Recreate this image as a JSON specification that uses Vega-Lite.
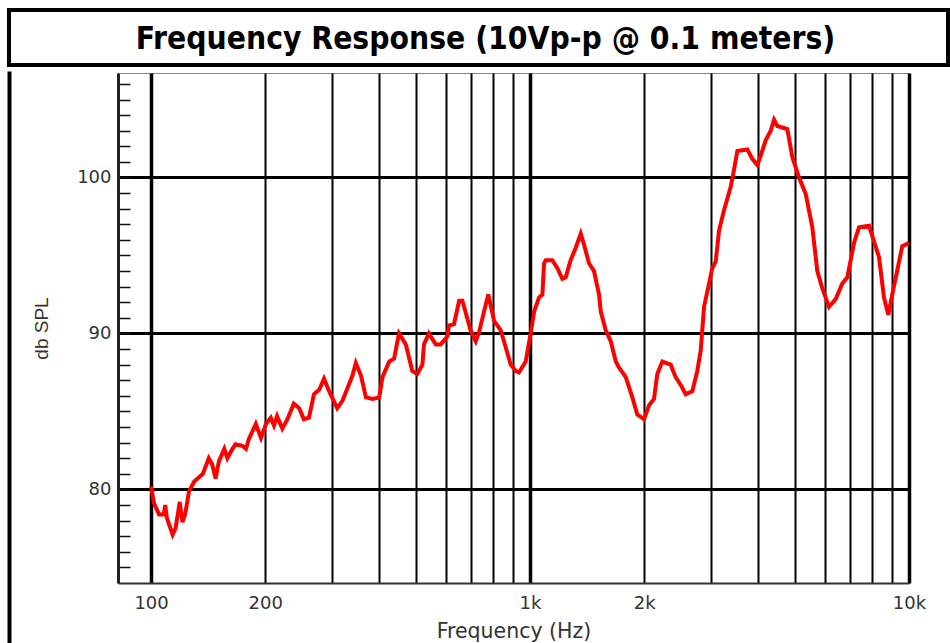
{
  "$schema": "https://vega.github.io/schema/vega-lite/v6.json",
  "background": "white",
  "padding": {"left": 7, "top": 8, "right": 0, "bottom": 0},
  "spacing": 0,
  "config": {"view": {"stroke": null}},
  "vconcat": [
    {
      "width": 939,
      "height": 55,
      "view": {"stroke": "black", "strokeWidth": 4},
      "data": {"values": [{"t": "Frequency Response (10Vp-p @ 0.1 meters)"}]},
      "mark": {"type": "text", "font": "DejaVu Sans Condensed", "fontWeight": "bold", "fontSize": 31.5, "color": "black", "baseline": "middle", "dx": 7, "dy": 2},
      "encoding": {"text": {"field": "t"}}
    },
    {
      "spacing": 20,
      "hconcat": [
        {
          "width": 1,
          "height": 572,
          "view": {"stroke": "black", "strokeWidth": 3},
          "data": {"values": []},
          "mark": "point",
          "encoding": {}
        },
        {
          "width": 791,
          "height": 510,
          "view": {"stroke": "#888", "strokeWidth": 1},
          "data": {"values": [
            {"f": 100, "db": 80.2}, {"f": 101.8, "db": 79.1}, {"f": 105, "db": 78.4}, {"f": 108, "db": 78.4},
            {"f": 109, "db": 79.0}, {"f": 110, "db": 78.2}, {"f": 114, "db": 77.1}, {"f": 116, "db": 77.5},
            {"f": 118, "db": 78.6}, {"f": 119, "db": 79.2}, {"f": 121, "db": 77.9}, {"f": 123, "db": 78.4},
            {"f": 126, "db": 79.9}, {"f": 130, "db": 80.5}, {"f": 137, "db": 81.0}, {"f": 142, "db": 82.0},
            {"f": 145, "db": 81.6}, {"f": 148, "db": 80.7}, {"f": 151, "db": 81.8}, {"f": 156, "db": 82.6},
            {"f": 159, "db": 82.0}, {"f": 164, "db": 82.6}, {"f": 167, "db": 82.9}, {"f": 174, "db": 82.8},
            {"f": 178, "db": 82.6}, {"f": 181, "db": 83.2}, {"f": 189, "db": 84.2}, {"f": 195, "db": 83.3},
            {"f": 201, "db": 84.2}, {"f": 207, "db": 84.6}, {"f": 211, "db": 84.1}, {"f": 215, "db": 84.7},
            {"f": 222, "db": 83.9}, {"f": 229, "db": 84.5}, {"f": 238, "db": 85.5}, {"f": 246, "db": 85.2},
            {"f": 253, "db": 84.5}, {"f": 261, "db": 84.6}, {"f": 269, "db": 86.1}, {"f": 278, "db": 86.4},
            {"f": 286, "db": 87.1}, {"f": 295, "db": 86.3}, {"f": 310, "db": 85.2}, {"f": 320, "db": 85.7},
            {"f": 330, "db": 86.5}, {"f": 340, "db": 87.3}, {"f": 347, "db": 88.1}, {"f": 358, "db": 87.3},
            {"f": 369, "db": 85.9}, {"f": 385, "db": 85.8}, {"f": 400, "db": 85.9}, {"f": 408, "db": 87.2},
            {"f": 425, "db": 88.2}, {"f": 438, "db": 88.4}, {"f": 451, "db": 90.0}, {"f": 470, "db": 89.3},
            {"f": 489, "db": 87.6}, {"f": 504, "db": 87.4}, {"f": 520, "db": 88.0}, {"f": 525, "db": 89.3},
            {"f": 541, "db": 90.0}, {"f": 564, "db": 89.3}, {"f": 581, "db": 89.3}, {"f": 605, "db": 89.8},
            {"f": 611, "db": 90.5}, {"f": 630, "db": 90.6}, {"f": 650, "db": 92.1}, {"f": 663, "db": 92.1},
            {"f": 697, "db": 90.2}, {"f": 719, "db": 89.5}, {"f": 734, "db": 90.1}, {"f": 756, "db": 91.4},
            {"f": 776, "db": 92.5}, {"f": 804, "db": 90.8}, {"f": 837, "db": 90.2}, {"f": 863, "db": 89.1},
            {"f": 889, "db": 88.0}, {"f": 917, "db": 87.6}, {"f": 935, "db": 87.5}, {"f": 974, "db": 88.2},
            {"f": 1004, "db": 90.0}, {"f": 1025, "db": 91.4}, {"f": 1056, "db": 92.3}, {"f": 1078, "db": 92.5},
            {"f": 1089, "db": 94.5}, {"f": 1100, "db": 94.7}, {"f": 1145, "db": 94.7}, {"f": 1180, "db": 94.2},
            {"f": 1217, "db": 93.5}, {"f": 1242, "db": 93.6}, {"f": 1280, "db": 94.7}, {"f": 1320, "db": 95.5},
            {"f": 1361, "db": 96.4}, {"f": 1388, "db": 95.7}, {"f": 1431, "db": 94.5}, {"f": 1475, "db": 94.0},
            {"f": 1521, "db": 92.5}, {"f": 1537, "db": 91.4}, {"f": 1584, "db": 90.2}, {"f": 1633, "db": 89.5},
            {"f": 1684, "db": 88.2}, {"f": 1718, "db": 87.8}, {"f": 1789, "db": 87.2}, {"f": 1862, "db": 85.9},
            {"f": 1919, "db": 84.8}, {"f": 1999, "db": 84.5}, {"f": 2061, "db": 85.4}, {"f": 2124, "db": 85.8},
            {"f": 2167, "db": 87.4}, {"f": 2234, "db": 88.2}, {"f": 2350, "db": 88.0}, {"f": 2423, "db": 87.2},
            {"f": 2498, "db": 86.7}, {"f": 2575, "db": 86.1}, {"f": 2681, "db": 86.3}, {"f": 2763, "db": 87.6},
            {"f": 2821, "db": 88.9}, {"f": 2878, "db": 91.7}, {"f": 2967, "db": 93.2}, {"f": 3027, "db": 94.2},
            {"f": 3090, "db": 94.6}, {"f": 3153, "db": 96.6}, {"f": 3250, "db": 97.9}, {"f": 3385, "db": 99.4},
            {"f": 3454, "db": 100.5}, {"f": 3524, "db": 101.7}, {"f": 3744, "db": 101.8}, {"f": 3859, "db": 101.2},
            {"f": 3979, "db": 100.8}, {"f": 4062, "db": 101.4}, {"f": 4188, "db": 102.4}, {"f": 4317, "db": 103.0},
            {"f": 4405, "db": 103.7}, {"f": 4494, "db": 103.3}, {"f": 4775, "db": 103.1}, {"f": 4922, "db": 101.3},
            {"f": 5126, "db": 100.0}, {"f": 5339, "db": 98.95}, {"f": 5558, "db": 96.8}, {"f": 5729, "db": 94.0},
            {"f": 5905, "db": 92.9}, {"f": 6150, "db": 91.7}, {"f": 6406, "db": 92.2}, {"f": 6668, "db": 93.2},
            {"f": 6874, "db": 93.6}, {"f": 7160, "db": 95.8}, {"f": 7381, "db": 96.8}, {"f": 7843, "db": 96.9},
            {"f": 8085, "db": 95.9}, {"f": 8333, "db": 94.9}, {"f": 8590, "db": 92.3}, {"f": 8819, "db": 91.2},
            {"f": 9035, "db": 92.5}, {"f": 9600, "db": 95.6}, {"f": 10000, "db": 95.8}
          ]},
          "layer": [
            {
              "mark": {"type": "line", "color": "#ff0000", "strokeWidth": 4, "clip": true},
              "encoding": {
                "x": {
                  "field": "f", "type": "quantitative",
                  "scale": {"type": "log", "domain": [81.8, 10000], "nice": false},
                  "axis": {
                    "orient": "bottom",
                    "values": [100, 200, 300, 400, 500, 600, 700, 800, 900, 1000, 2000, 3000, 4000, 5000, 6000, 7000, 8000, 9000, 10000],
                    "labelExpr": "datum.value == 100 ? '100' : datum.value == 200 ? '200' : datum.value == 1000 ? '1k' : datum.value == 2000 ? '2k' : datum.value == 10000 ? '10k' : ''",
                    "grid": true,
                    "gridColor": "black",
                    "gridOpacity": 1,
                    "gridWidth": {"condition": {"test": "datum.value == 100 || datum.value == 1000 || datum.value == 10000", "value": 3.5}, "value": 2},
                    "ticks": false,
                    "domain": true,
                    "domainColor": "#333",
                    "domainWidth": 2,
                    "labelFont": "DejaVu Sans",
                    "labelFontSize": 18,
                    "labelColor": "#333",
                    "labelPadding": 11,
                    "labelFlush": false,
                    "labelOverlap": false,
                    "labelBound": false,
                    "title": "Frequency (Hz)",
                    "titleFont": "DejaVu Sans",
                    "titleFontSize": 20.5,
                    "titleFontWeight": "normal",
                    "titleColor": "#333",
                    "titlePadding": 9
                  }
                },
                "y": {
                  "field": "db", "type": "quantitative",
                  "scale": {"domain": [74, 106.7], "nice": false, "zero": false},
                  "axis": {
                    "orient": "left",
                    "values": [75, 76, 77, 78, 79, 80, 81, 82, 83, 84, 85, 86, 87, 88, 89, 90, 91, 92, 93, 94, 95, 96, 97, 98, 99, 100, 101, 102, 103, 104, 105, 106],
                    "labelExpr": "datum.value % 10 == 0 ? datum.value + '' : ''",
                    "grid": true,
                    "gridColor": "black",
                    "gridWidth": 3,
                    "gridOpacity": {"condition": {"test": "datum.value % 10 == 0", "value": 1}, "value": 0},
                    "ticks": true,
                    "tickSize": -12,
                    "tickColor": "#111",
                    "tickWidth": 1.5,
                    "labelPadding": 19,
                    "domain": true,
                    "domainColor": "#222",
                    "domainWidth": 3,
                    "labelFont": "DejaVu Sans",
                    "labelFontSize": 18,
                    "labelColor": "#333",
                    "labelOverlap": false,
                    "labelBound": false,
                    "title": "db SPL",
                    "titleFont": "Liberation Sans Narrow, Liberation Sans",
                    "titleFontSize": 19,
                    "titleFontWeight": "normal",
                    "titleColor": "#333",
                    "titlePadding": 25
                  }
                }
              }
            },
            {
              "mark": {"type": "line", "color": "#ff0000", "strokeWidth": 4, "opacity": 0},
              "encoding": {
                "x": {
                  "field": "f", "type": "quantitative",
                  "axis": {"orient": "top", "values": [1000], "labels": false, "domain": false, "grid": false, "ticks": true, "tickSize": 5, "tickOpacity": 0, "title": null}
                },
                "y": {"field": "db", "type": "quantitative", "axis": null}
              }
            }
          ],
          "resolve": {"axis": {"x": "independent", "y": "independent"}}
        }
      ]
    }
  ]
}
